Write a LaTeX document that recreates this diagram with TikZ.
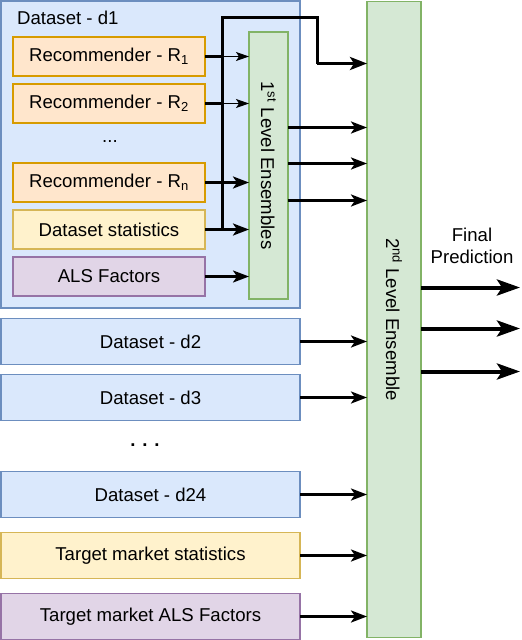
\documentclass[tikz,border=0pt]{standalone}
\usepackage{fontspec}
\setmainfont{Liberation Sans}
\usetikzlibrary{arrows.meta}
\definecolor{bfill}{HTML}{DAE8FC}\definecolor{bdraw}{HTML}{6C8EBF}
\definecolor{ofill}{HTML}{FFE6CC}\definecolor{odraw}{HTML}{D79B00}
\definecolor{yfill}{HTML}{FFF2CC}\definecolor{ydraw}{HTML}{D6B656}
\definecolor{pfill}{HTML}{E1D5E7}\definecolor{pdraw}{HTML}{9673A6}
\definecolor{gfill}{HTML}{D5E8D4}\definecolor{gdraw}{HTML}{82B366}
\begin{document}
\begin{tikzpicture}[x=1pt,y=-1pt,
  font=\fontsize{18.6}{22}\selectfont,
  box/.style={draw, line width=1.5pt, inner sep=0pt, outer sep=0pt, align=center},
  bluebox/.style={box, fill=bfill, draw=bdraw},
  orangebox/.style={box, fill=ofill, draw=odraw},
  yellowbox/.style={box, fill=yfill, draw=ydraw},
  purplebox/.style={box, fill=pfill, draw=pdraw},
  greenbox/.style={box, fill=gfill, draw=gdraw},
  inbox/.style={minimum width=192, minimum height=39},
  rowbox/.style={minimum width=299, minimum height=46},
  thickline/.style={line width=3pt},
  thinarrow/.style={line width=1pt, -{Stealth[length=13pt,width=9pt,inset=3pt]}},
  medarrow/.style={line width=2.7pt, -{Stealth[length=16pt,width=12pt,inset=4pt]}},
  bigarrow/.style={line width=4pt, -{Stealth[length=23pt,width=16pt,inset=5pt]}}]
\useasboundingbox (0,0) rectangle (522,640);

% dataset d1 container
\node[bluebox, minimum width=299, minimum height=307] (D1) at (150.5,154.5) {};
\node[anchor=west, inner sep=0pt] (d1lab) at (17,18) {Dataset - d1};

\node[orangebox, inbox] (R1) at (109,56.5) {Recommender - R\textsubscript{1}};
\node[orangebox, inbox] (R2) at (109,103.5) {Recommender - R\textsubscript{2}};
\node[inner sep=0pt] (dotsa) at (110,142) {...};
\node[orangebox, inbox] (Rn) at (109,182.5) {Recommender - R\textsubscript{n}};
\node[yellowbox, inbox] (ST) at (109,229.5) {Dataset statistics};
\node[purplebox, inbox] (ALS) at (109,276.5) {ALS Factors};

\node[greenbox, rotate=-90, minimum width=267, minimum height=39] (E1) at (268.5,165.5) {1\textsuperscript{st} Level Ensembles};

% other datasets
\node[bluebox, rowbox] (d2) at (150.5,341.5) {Dataset - d2};
\node[bluebox, rowbox] (d3) at (150.5,397.5) {Dataset - d3};
\node[inner sep=0pt] (dotsb) at (145,445) {\textbf{. . .}};
\node[bluebox, rowbox] (d24) at (150.5,494.5) {Dataset - d24};
\node[yellowbox, rowbox] (TS) at (150.5,555.5) {Target market statistics};
\node[purplebox, rowbox] (TA) at (150.5,616.5) {Target market ALS Factors};

\node[greenbox, rotate=-90, minimum width=636, minimum height=54] (E2) at (394,319.5) {2\textsuperscript{nd} Level Ensemble};

\node[align=center, inner sep=0pt] (fp) at (472,246) {Final\\Prediction};

% bus
\coordinate (busx) at (222,0);
\coordinate (busc1) at (222,17);
\coordinate (busc2) at (317,17);
\coordinate (busc3) at (317,63.5);
\draw[thickline] (R1.east) -- (R1.east -| busx);
\draw[thinarrow] (R1.east -| busx) -- (R1.east -| E1.south);
\draw[thickline] (R2.east) -- (R2.east -| busx);
\draw[thinarrow] (R2.east -| busx) -- (R2.east -| E1.south);
\draw[medarrow] (Rn.east) -- (Rn.east -| E1.south);
\draw[medarrow] (ST.east) -- (ST.east -| E1.south);
\draw[medarrow, line width=2.3pt] (ALS.east) -- (ALS.east -| E1.south);
\draw[thickline, line join=miter] (ST.east -| busx) -- (busc1) -- (busc2) -- (busc3);
\draw[thickline, -{Stealth[length=17pt,width=13pt,inset=4pt]}] (busc3) -- (busc3 -| E2.south);

% E1 outputs
\coordinate (o1) at (0,127.5);
\coordinate (o2) at (0,163.5);
\coordinate (o3) at (0,200.5);
\draw[medarrow] (o1 -| E1.north) -- (o1 -| E2.south);
\draw[medarrow] (o2 -| E1.north) -- (o2 -| E2.south);
\draw[medarrow] (o3 -| E1.north) -- (o3 -| E2.south);

% dataset rows to E2
\draw[medarrow] (d2.east) -- (d2.east -| E2.south);
\draw[medarrow] (d3.east) -- (d3.east -| E2.south);
\draw[medarrow] (d24.east) -- (d24.east -| E2.south);
\draw[medarrow] (TS.east) -- (TS.east -| E2.south);
\draw[medarrow] (TA.east) -- (TA.east -| E2.south);

% final outputs
\coordinate (f1) at (520,287.5);
\coordinate (f2) at (520,328.5);
\coordinate (f3) at (520,371.5);
\draw[bigarrow] (f1 -| E2.north) -- (f1);
\draw[bigarrow] (f2 -| E2.north) -- (f2);
\draw[bigarrow] (f3 -| E2.north) -- (f3);
\end{tikzpicture}
\end{document}
